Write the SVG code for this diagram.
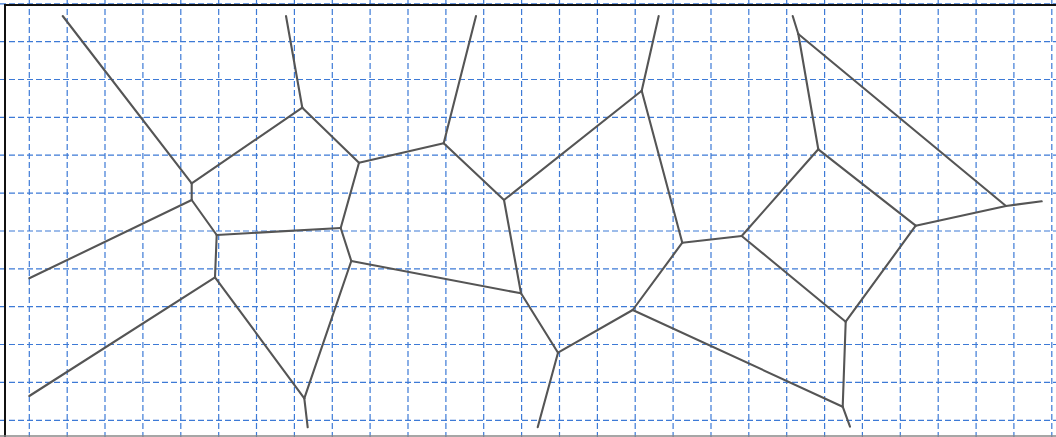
<svg xmlns="http://www.w3.org/2000/svg" width="1056" height="437" viewBox="0 0 1056 437">
<style>
.grid line{stroke:#3d7ad6;stroke-width:1.2;stroke-dasharray:6,3;fill:none}
.frame{stroke:#111;stroke-width:2;fill:none}
.edges line{stroke:#555;stroke-width:2.1;stroke-linecap:round;fill:none}
</style>
<rect x="0" y="0" width="1056" height="437" fill="#fff"/>
<g id="grid" class="grid">
<line x1="29.3" y1="0" x2="29.3" y2="437"/>
<line x1="67.2" y1="0" x2="67.2" y2="437"/>
<line x1="105.0" y1="0" x2="105.0" y2="437"/>
<line x1="142.9" y1="0" x2="142.9" y2="437"/>
<line x1="180.8" y1="0" x2="180.8" y2="437"/>
<line x1="218.7" y1="0" x2="218.7" y2="437"/>
<line x1="256.5" y1="0" x2="256.5" y2="437"/>
<line x1="294.4" y1="0" x2="294.4" y2="437"/>
<line x1="332.3" y1="0" x2="332.3" y2="437"/>
<line x1="370.1" y1="0" x2="370.1" y2="437"/>
<line x1="408.0" y1="0" x2="408.0" y2="437"/>
<line x1="445.9" y1="0" x2="445.9" y2="437"/>
<line x1="483.7" y1="0" x2="483.7" y2="437"/>
<line x1="521.6" y1="0" x2="521.6" y2="437"/>
<line x1="559.5" y1="0" x2="559.5" y2="437"/>
<line x1="597.4" y1="0" x2="597.4" y2="437"/>
<line x1="635.2" y1="0" x2="635.2" y2="437"/>
<line x1="673.1" y1="0" x2="673.1" y2="437"/>
<line x1="711.0" y1="0" x2="711.0" y2="437"/>
<line x1="748.8" y1="0" x2="748.8" y2="437"/>
<line x1="786.7" y1="0" x2="786.7" y2="437"/>
<line x1="824.6" y1="0" x2="824.6" y2="437"/>
<line x1="862.4" y1="0" x2="862.4" y2="437"/>
<line x1="900.3" y1="0" x2="900.3" y2="437"/>
<line x1="938.2" y1="0" x2="938.2" y2="437"/>
<line x1="976.1" y1="0" x2="976.1" y2="437"/>
<line x1="1013.9" y1="0" x2="1013.9" y2="437"/>
<line x1="1051.8" y1="0" x2="1051.8" y2="437"/>
<line x1="0" y1="3.8" x2="1056" y2="3.8"/>
<line x1="0" y1="41.7" x2="1056" y2="41.7"/>
<line x1="0" y1="79.5" x2="1056" y2="79.5"/>
<line x1="0" y1="117.4" x2="1056" y2="117.4"/>
<line x1="0" y1="155.2" x2="1056" y2="155.2"/>
<line x1="0" y1="193.1" x2="1056" y2="193.1"/>
<line x1="0" y1="231.0" x2="1056" y2="231.0"/>
<line x1="0" y1="268.8" x2="1056" y2="268.8"/>
<line x1="0" y1="306.7" x2="1056" y2="306.7"/>
<line x1="0" y1="344.5" x2="1056" y2="344.5"/>
<line x1="0" y1="382.4" x2="1056" y2="382.4"/>
<line x1="0" y1="420.3" x2="1056" y2="420.3"/>
</g>
<g id="frame">
<line class="frame" x1="5" y1="5" x2="1056" y2="5"/>
<line class="frame" x1="5" y1="4" x2="5" y2="437"/>
<line x1="0" y1="436" x2="1056" y2="436" stroke="#888" stroke-width="1.5"/>
</g>
<g id="edges" class="edges">
<line x1="62.7" y1="16" x2="191.7" y2="183.3"/>
<line x1="191.7" y1="183.3" x2="191.7" y2="200"/>
<line x1="191.7" y1="183.3" x2="302.3" y2="107.7"/>
<line x1="302.3" y1="107.7" x2="286" y2="16"/>
<line x1="302.3" y1="107.7" x2="359" y2="162.7"/>
<line x1="191.7" y1="200" x2="29.3" y2="278.3"/>
<line x1="191.7" y1="200" x2="216.7" y2="235"/>
<line x1="216.7" y1="235" x2="215" y2="277.3"/>
<line x1="215" y1="277.3" x2="29.3" y2="396"/>
<line x1="215" y1="277.3" x2="304.3" y2="398.3"/>
<line x1="304.3" y1="398.3" x2="307.7" y2="427.3"/>
<line x1="216.7" y1="235" x2="340.7" y2="228"/>
<line x1="340.7" y1="228" x2="359" y2="162.7"/>
<line x1="340.7" y1="228" x2="351.3" y2="261"/>
<line x1="351.3" y1="261" x2="304.3" y2="398.3"/>
<line x1="359" y1="162.7" x2="443.7" y2="143.3"/>
<line x1="443.7" y1="143.3" x2="476" y2="16"/>
<line x1="443.7" y1="143.3" x2="504" y2="200"/>
<line x1="504" y1="200" x2="641.7" y2="90.7"/>
<line x1="641.7" y1="90.7" x2="658.7" y2="16"/>
<line x1="504" y1="200" x2="521" y2="293.3"/>
<line x1="351.3" y1="261" x2="521" y2="293.3"/>
<line x1="521" y1="293.3" x2="558" y2="352.7"/>
<line x1="558" y1="352.7" x2="537.7" y2="427.3"/>
<line x1="558" y1="352.7" x2="632.7" y2="310"/>
<line x1="632.7" y1="310" x2="682.3" y2="242.7"/>
<line x1="682.3" y1="242.7" x2="641.7" y2="90.7"/>
<line x1="682.3" y1="242.7" x2="741.7" y2="236"/>
<line x1="632.7" y1="310" x2="842.7" y2="406.7"/>
<line x1="842.7" y1="406.7" x2="850" y2="426.7"/>
<line x1="842.7" y1="406.7" x2="845.7" y2="321.7"/>
<line x1="845.7" y1="321.7" x2="741.7" y2="236"/>
<line x1="845.7" y1="321.7" x2="915.7" y2="225.7"/>
<line x1="915.7" y1="225.7" x2="818.3" y2="149.3"/>
<line x1="818.3" y1="149.3" x2="741.7" y2="236"/>
<line x1="818.3" y1="149.3" x2="798.3" y2="34"/>
<line x1="798.3" y1="34" x2="792.7" y2="16"/>
<line x1="798.3" y1="34" x2="1006" y2="206"/>
<line x1="1006" y1="206" x2="915.7" y2="225.7"/>
<line x1="1006" y1="206" x2="1041.7" y2="201.3"/>
</g>
</svg>
